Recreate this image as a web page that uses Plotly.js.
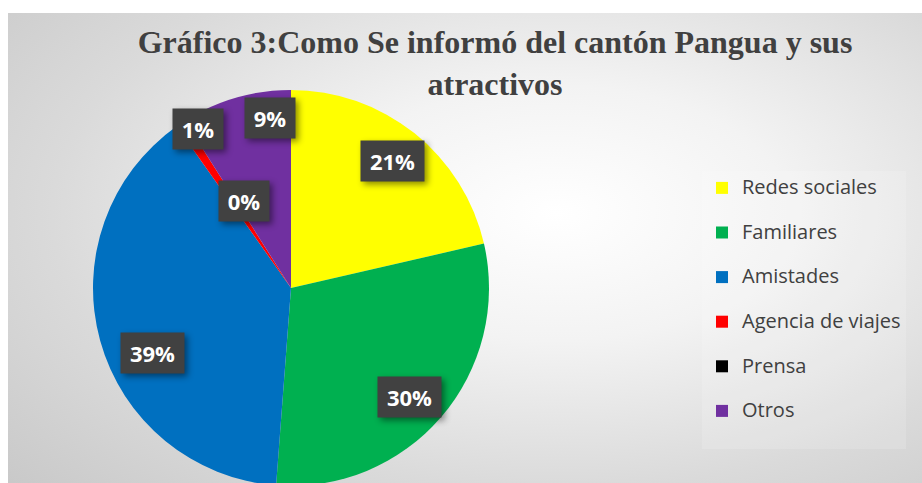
<!DOCTYPE html>
<html>
<head>
<meta charset="utf-8">
<script src="https://cdn.plot.ly/plotly-3.0.1.min.js"></script>
<style>
  html, body { margin: 0; padding: 0; background: #ffffff; overflow: hidden; width: 922px; height: 483px; }
  #chart {
    position: absolute; left: 8px; top: 13px; width: 914px; height: 500px;
    background: radial-gradient(ellipse farthest-corner at 60% 40%, #ffffff 0%, #f3f3f3 30%, #dadada 65%, #c6c6c6 100%);
  }
  .annotation rect.bg { filter: drop-shadow(3px 3px 3px rgba(0,0,0,0.45)); }
</style>
</head>
<body>
<div id="chart"></div>
<script>
// ---- data ----
const categories = ["Redes sociales", "Familiares", "Amistades", "Agencia de viajes", "Prensa", "Otros"];
const values = [21.4, 29.8, 39.0, 0.8, 0.0, 9.0];
const colors = ["#FFFF00", "#00B050", "#0070C0", "#FF0000", "#000000", "#7030A0"];
const titleText = "Gráfico 3:Como Se informó del cantón Pangua y sus<br>atractivos";

// ---- layout helpers (positions / styles) ----
const W = 914, H = 500;
const pieCx = 283, pieCy = 275, pieR = 198;      // pixel geometry of the pie inside the div
// label placement: radius fraction and angle nudge (deg) per slice
const labelRadius = [0.82, 0.815, 0.775, 0.93, 0.50, 0.865];
const labelNudge  = [0, 2, -9.6, 3.5, 4, 9.2];

const total = values.reduce((a, b) => a + b, 0);
let cum = 0;
const annotations = values.map((v, i) => {
  const mid = (cum + v / 2) / total * 360 + labelNudge[i];
  cum += v;
  const th = mid * Math.PI / 180;
  const r = labelRadius[i] * pieR;
  const px = pieCx + r * Math.sin(th);
  const py = pieCy - r * Math.cos(th);
  const txt = Math.round(v / total * 100) + "%";
  return {
    xref: "paper", yref: "paper",
    x: px / W, y: 1 - py / H,
    xanchor: "center", yanchor: "middle",
    text: "<b>" + txt + "</b>",
    showarrow: false,
    bgcolor: "#414141",
    borderpad: 0,
    width: 24 + 13 * txt.length,
    height: 40,
    font: { family: "Open Sans", size: 22, color: "#ffffff" }
  };
});

const legendNames = categories.map(c => "<span style='font-size:20px'>" + c + "</span><br>\u00a0");

const trace = {
  type: "pie",
  labels: legendNames,
  values: values,
  sort: false,
  direction: "clockwise",
  rotation: 0,
  marker: { colors: colors, line: { width: 0 } },
  textinfo: "none",
  hoverinfo: "none",
  domain: { x: [(pieCx - pieR) / W, (pieCx + pieR) / W], y: [1 - (pieCy + pieR) / H, 1 - (pieCy - pieR) / H] }
};

const layout = {
  width: W, height: H,
  margin: { l: 0, r: 0, t: 0, b: 0 },
  paper_bgcolor: "rgba(0,0,0,0)",
  plot_bgcolor: "rgba(0,0,0,0)",
  title: {
    text: "<b>" + titleText + "</b>",
    font: { family: "Liberation Serif", size: 32, color: "#404040" },
    x: 487 / W, xanchor: "center",
    xref: "paper",
    y: 1 - 40 / H, yref: "container", yanchor: "top"
  },
  showlegend: true,
  legend: {
    x: 694 / W, xanchor: "left",
    y: 1 - 158 / H, yanchor: "top",
    bgcolor: "rgba(255,255,255,0.15)",
    font: { family: "Open Sans", size: 16, color: "#404040" },
    valign: "top",
    traceorder: "normal"
  },
  annotations: annotations
};

Plotly.newPlot("chart", [trace], layout, { displayModeBar: false, staticPlot: true });
</script>
</body>
</html>
